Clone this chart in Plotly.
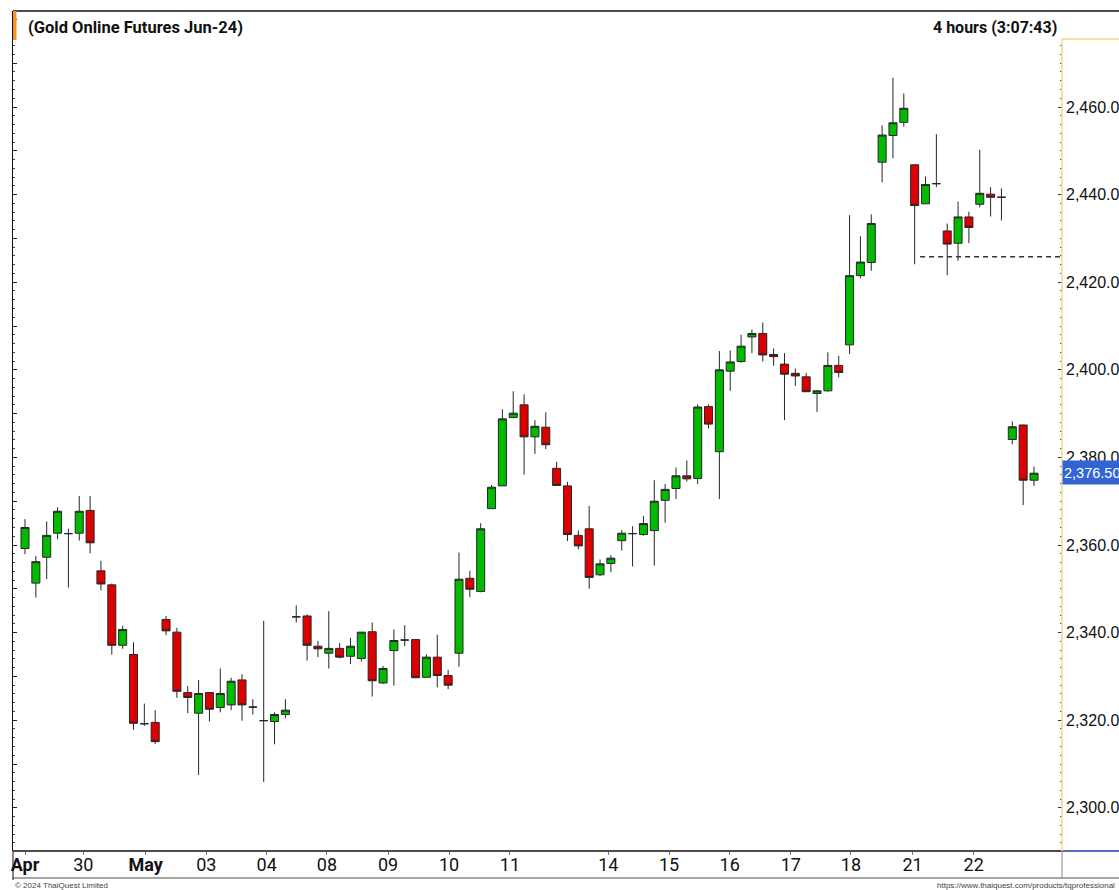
import plotly.graph_objects as go

# ---------------- data (4-hour candles, Gold Online Futures Jun-24) ----------------
opens = [2359.2, 2351.3, 2357.2, 2362.7, 2362.6, 2362.7, 2367.9, 2354.1, 2350.9, 2337.1,
         2335.0, 2319.2, 2319.5, 2343.0, 2340.1, 2326.3, 2321.6, 2326.3, 2322.9, 2323.5,
         2329.2, 2323.0, 2319.9, 2319.7, 2321.3, 2343.6, 2343.8, 2336.9, 2335.3, 2336.4,
         2334.6, 2334.1, 2340.2, 2328.5, 2335.9, 2338.3, 2338.4, 2329.8, 2334.4, 2330.2,
         2335.3, 2352.4, 2349.4, 2368.3, 2373.5, 2389.1, 2392.0, 2384.7, 2386.9, 2377.5,
         2373.5, 2362.2, 2363.7, 2353.2, 2355.8, 2361.0, 2362.6, 2362.4, 2363.3, 2370.2,
         2372.9, 2375.8, 2375.2, 2391.6, 2381.3, 2399.7, 2401.9, 2407.5, 2408.3, 2403.5,
         2401.3, 2399.2, 2398.4, 2394.6, 2395.2, 2401.0, 2405.7, 2421.5, 2424.5, 2447.4,
         2453.5, 2456.5, 2446.8, 2437.9, 2442.5, 2431.7, 2428.9, 2434.9, 2437.8, 2440.1,
         2439.4, 2384.1, 2387.4, 2374.8]
highs = [2365.9, 2357.5, 2365.4, 2368.6, 2363.7, 2371.2, 2371.2, 2356.4, 2351.2, 2341.6,
         2337.8, 2323.8, 2322.3, 2343.8, 2341.1, 2327.8, 2329.2, 2326.4, 2331.8, 2329.7,
         2330.5, 2324.8, 2342.7, 2321.8, 2324.8, 2346.2, 2344.2, 2338.1, 2344.9, 2337.6,
         2338.8, 2340.1, 2342.3, 2332.4, 2340.7, 2341.7, 2338.5, 2335.0, 2339.5, 2331.5,
         2358.3, 2354.1, 2365.0, 2373.7, 2391.0, 2395.1, 2394.4, 2388.5, 2390.3, 2379.0,
         2374.4, 2363.3, 2368.9, 2356.7, 2357.7, 2363.4, 2364.3, 2366.6, 2374.8, 2373.9,
         2377.7, 2379.3, 2392.1, 2392.1, 2404.3, 2404.4, 2408.0, 2409.2, 2410.8, 2404.9,
         2403.8, 2400.3, 2399.3, 2395.4, 2404.0, 2403.2, 2435.3, 2430.5, 2435.5, 2455.8,
         2466.7, 2463.1, 2446.9, 2444.1, 2453.8, 2433.4, 2438.4, 2436.1, 2450.2, 2441.7,
         2441.4, 2388.2, 2387.5, 2377.9]
lows = [2357.9, 2348.0, 2352.2, 2361.3, 2350.3, 2361.0, 2358.1, 2349.6, 2335.0, 2336.3,
        2317.8, 2318.7, 2314.6, 2339.4, 2325.1, 2321.6, 2307.5, 2319.7, 2321.8, 2322.3,
        2319.9, 2321.3, 2305.9, 2314.5, 2320.4, 2342.3, 2333.6, 2334.4, 2331.8, 2334.1,
        2332.8, 2333.4, 2325.4, 2328.3, 2327.9, 2336.9, 2329.6, 2329.8, 2327.5, 2327.1,
        2332.2, 2348.1, 2349.2, 2368.3, 2373.5, 2389.1, 2376.1, 2380.8, 2381.9, 2373.6,
        2360.9, 2359.0, 2350.0, 2352.9, 2353.8, 2358.7, 2355.1, 2362.1, 2355.3, 2365.1,
        2370.5, 2374.5, 2373.9, 2386.6, 2370.5, 2395.2, 2401.6, 2403.8, 2401.9, 2400.9,
        2388.5, 2396.3, 2395.0, 2390.4, 2395.0, 2398.3, 2403.6, 2420.9, 2422.6, 2442.8,
        2448.3, 2455.5, 2424.1, 2437.9, 2441.7, 2421.6, 2424.9, 2428.9, 2437.1, 2435.0,
        2434.1, 2383.0, 2369.1, 2373.5]
closes = [2364.0, 2356.2, 2362.2, 2367.7, 2362.6, 2367.7, 2360.5, 2351.1, 2337.1, 2340.7,
          2319.3, 2319.2, 2315.1, 2340.4, 2326.6, 2325.2, 2326.1, 2322.5, 2326.1, 2328.9,
          2323.5, 2323.0, 2319.9, 2321.3, 2322.3, 2343.6, 2337.1, 2336.3, 2336.4, 2334.4,
          2336.9, 2340.1, 2329.0, 2331.8, 2338.2, 2338.3, 2329.7, 2334.4, 2330.2, 2328.0,
          2352.2, 2349.9, 2363.7, 2373.2, 2388.8, 2390.1, 2384.7, 2387.1, 2382.9, 2373.6,
          2362.4, 2359.8, 2352.6, 2355.7, 2357.0, 2362.7, 2362.6, 2364.9, 2370.0, 2372.7,
          2375.8, 2375.1, 2391.5, 2387.6, 2400.0, 2401.8, 2405.4, 2408.3, 2403.4, 2403.0,
          2399.0, 2398.6, 2395.0, 2395.2, 2401.0, 2399.4, 2421.5, 2424.6, 2433.4, 2453.6,
          2456.4, 2459.7, 2437.5, 2442.3, 2442.5, 2428.7, 2434.9, 2432.5, 2440.3, 2439.4,
          2439.4, 2387.0, 2374.8, 2376.4]
bar_index = list(range(len(closes)))

date_tick_pos = [0, 5.37, 11.11, 16.71, 22.28, 27.83, 33.46, 39.08, 44.7,
                 53.76, 59.36, 64.95, 70.58, 76.13, 81.8, 87.44]
date_tick_text = ["<b>Apr</b>", "30", "<b>May</b>", "03", "04", "08", "09", "10", "11",
                  "14", "15", "16", "17", "18", "21", "22"]

price_ticks = [2300, 2320, 2340, 2360, 2380, 2400, 2420, 2440, 2460]
price_tick_text = ["2,300.0", "2,320.0", "2,340.0", "2,360.0", "2,380.0",
                   "2,400.0", "2,420.0", "2,440.0", "2,460.0"]

last_price = 2376.50
last_price_text = "2,376.50"
level_price = 2425.8
level_start_bar = 82.5

title_text = "(Gold Online Futures Jun-24)"
interval_text = "4 hours (3:07:43)"
copyright_text = "© 2024 ThaiQuest Limited"
url_text = "https://www.thaiquest.com/products/tqprofessional"

# ---------------- layout geometry ----------------
W, H = 1119, 890
ML, MR, MT, MB = 13, 57, 11, 39
PW, PH = W - ML - MR, H - MT - MB
X_RANGE = [-1.106, 95.58]
Y_RANGE = [2290.14, 2481.92]


def px_x(px):
    return (px - ML) / PW


def px_y(py):
    return (H - MB - py) / PH


NARROW = "Roboto, Liberation Sans Narrow, sans-serif"
REG = "Liberation Sans, Arial, sans-serif"

fig = go.Figure()
fig.add_trace(go.Candlestick(
    x=bar_index, open=opens, high=highs, low=lows, close=closes,
    increasing=dict(fillcolor="#00bb00", line=dict(color="#262626", width=1)),
    decreasing=dict(fillcolor="#dd0000", line=dict(color="#262626", width=1)),
    whiskerwidth=0, hoverinfo="skip", showlegend=False,
))
# invisible trace for the left axis
fig.add_trace(go.Scatter(x=[0], y=[2400], yaxis="y2", mode="markers",
                         marker=dict(opacity=0), hoverinfo="skip", showlegend=False))

minor_vals = [v for v in range(2292, 2476, 2)]

fig.update_layout(
    width=W, height=H,
    margin=dict(l=ML, r=MR, t=MT, b=MB, pad=0, autoexpand=False),
    paper_bgcolor="white", plot_bgcolor="white",
    boxgap=0.26, boxgroupgap=0,
    xaxis=dict(range=X_RANGE, rangeslider=dict(visible=False), showgrid=False,
               zeroline=False, showline=False, tickmode="array", automargin=False,
               tickvals=date_tick_pos, ticktext=date_tick_text,
               ticks="outside", ticklen=3, tickcolor="#777", ticklabelstandoff=-6,
               tickfont=dict(family=NARROW, size=18, color="#111")),
    yaxis=dict(range=Y_RANGE, side="right", showgrid=False, zeroline=False,
               showline=False, tickmode="array", tickvals=price_ticks, automargin=False,
               ticktext=price_tick_text, ticks="inside", ticklen=4,
               tickcolor="#333", ticklabelstandoff=3,
               tickfont=dict(family=REG, size=16, color="#111"),
               minor=dict(tickmode="array", tickvals=minor_vals, ticks="inside",
                          ticklen=2, tickcolor="#555")),
    yaxis2=dict(range=Y_RANGE, overlaying="y", side="left", showgrid=False,
                zeroline=False, showline=True, linecolor="#111", linewidth=1,
                automargin=False,
                showticklabels=False, tickmode="linear", tick0=2300, dtick=10,
                ticks="inside", ticklen=4, tickcolor="#222",
                minor=dict(ticks="inside", ticklen=2, dtick=2, tickcolor="#444")),
)

shapes = []
# support dashed line
shapes.append(dict(type="line", xref="x", yref="y", x0=level_start_bar, x1=X_RANGE[1],
                   y0=level_price, y1=level_price,
                   line=dict(color="#333", width=1.5, dash="5px,4px")))
# frame lines
shapes.append(dict(type="line", xref="paper", yref="paper", x0=0, x1=px_x(W),
                   y0=1, y1=1, line=dict(color="#111", width=1.5)))
shapes.append(dict(type="line", xref="paper", yref="paper", x0=0, x1=1,
                   y0=0, y1=0, line=dict(color="#111", width=1.5)))
shapes.append(dict(type="line", xref="paper", yref="paper", x0=1, x1=px_x(W),
                   y0=0, y1=0, line=dict(color="#1a3aa8", width=1.5)))
shapes.append(dict(type="line", xref="paper", yref="paper", x0=0, x1=px_x(W),
                   y0=px_y(878), y1=px_y(878), line=dict(color="#888", width=1.5)))
shapes.append(dict(type="line", xref="paper", yref="paper", x0=1, x1=1,
                   y0=0, y1=px_y(878), line=dict(color="#888", width=1)))
shapes.append(dict(type="line", xref="paper", yref="paper", x0=0, x1=0,
                   y0=0, y1=px_y(880), line=dict(color="#111", width=1)))
# pale right-axis box
shapes.append(dict(type="line", xref="paper", yref="paper", x0=1, x1=1,
                   y0=0, y1=px_y(39), line=dict(color="#f3d98e", width=1.5)))
shapes.append(dict(type="line", xref="paper", yref="paper", x0=1, x1=px_x(W),
                   y0=px_y(39), y1=px_y(39), line=dict(color="#f3d98e", width=1.5)))
# orange marker at title
shapes.append(dict(type="rect", xref="paper", yref="paper", x0=0, x1=px_x(16.5),
                   y0=px_y(40), y1=1, line=dict(width=0), fillcolor="#f7941d"))
fig.update_layout(shapes=shapes)

ann = []
ann.append(dict(xref="paper", yref="paper", x=px_x(26), y=px_y(27), xanchor="left",
                yanchor="middle", showarrow=False, text="<b>" + title_text + "</b>",
                font=dict(family=NARROW, size=16.5, color="#111")))
ann.append(dict(xref="paper", yref="paper", x=px_x(1059), y=px_y(27), xanchor="right",
                yanchor="middle", showarrow=False, text="<b>" + interval_text + "</b>",
                font=dict(family=NARROW, size=16, color="#111")))
ann.append(dict(xref="paper", yref="y", x=1, y=last_price, xanchor="left",
                yanchor="middle", showarrow=False, text=last_price_text, align="left",
                bgcolor="#3464d4", borderpad=1, width=55, height=21,
                font=dict(family=REG, size=14.5, color="white")))
ann.append(dict(xref="paper", yref="paper", x=0, y=px_y(885), xanchor="left",
                yanchor="middle", showarrow=False, text=copyright_text,
                font=dict(family=REG, size=8, color="#444")))
ann.append(dict(xref="paper", yref="paper", x=px_x(1117), y=px_y(885), xanchor="right",
                yanchor="middle", showarrow=False, text=url_text,
                font=dict(family=REG, size=8, color="#444")))
fig.update_layout(annotations=ann)

fig.write_html("out.html", config={"displayModeBar": False},
               post_script="document.body.style.margin='0px';"
                           "document.body.style.overflow='hidden';")
